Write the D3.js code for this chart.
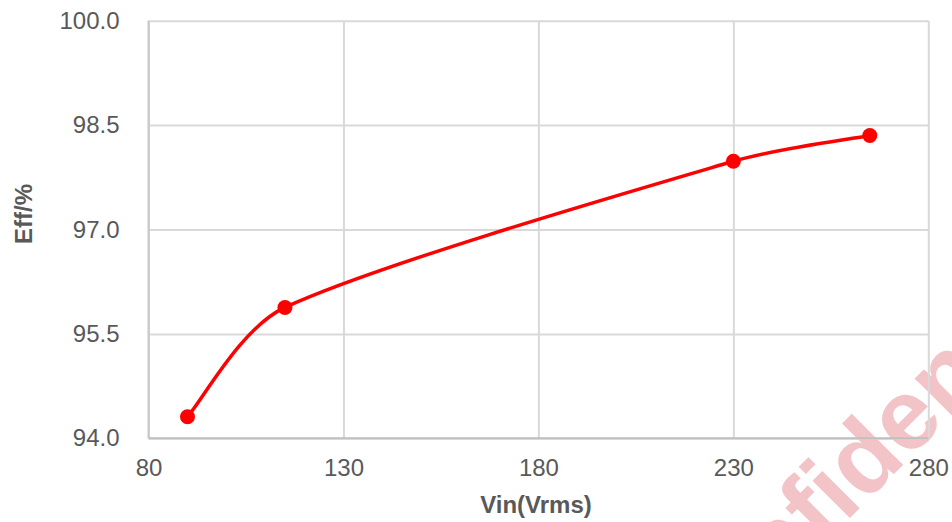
<!DOCTYPE html>
<html>
<head>
<meta charset="utf-8">
<script src="https://cdn.jsdelivr.net/npm/d3@7"></script>
<style>
  body { margin: 0; background: #fff; }
  text { font-family: "Liberation Sans", Arial, sans-serif; }
</style>
</head>
<body>
<svg id="chart" width="952" height="522"></svg>
<script>
// values
const vin = [90, 115, 230, 265];
const eff = [94.31, 95.88, 97.98, 98.35];
const xTicks = [80, 130, 180, 230, 280];
const yTicks = [94.0, 95.5, 97.0, 98.5, 100.0];

const width = 952,
    height = 522,
    margin = { top: 20.7, right: 23.7, bottom: 83.7, left: 148.5 },
    w = width - margin.left - margin.right,
    h = height - margin.top - margin.bottom;

const svg = d3.select("#chart");

// watermark sits behind everything
svg.append("text")
    .attr("transform", "translate(684,684) rotate(-45)")
    .attr("font-size", 100)
    .attr("font-weight", "bold")
    .attr("fill", "#f2c4c8")
    .text("Confidential");

const x = d3.scaleLinear().domain([80, 280]).range([0, w]);
const y = d3.scaleLinear().domain([94, 100]).range([h, 0]);

const g = svg.append("g")
    .attr("transform", "translate(" + margin.left + "," + margin.top + ")");

// gridlines
g.append("g")
    .attr("class", "ygrid")
    .call(d3.axisLeft(y).tickValues(yTicks).tickSize(-w).tickFormat(""))
    .call(s => s.select(".domain").remove())
    .selectAll("line").attr("stroke", "#d9d9d9").attr("stroke-width", 2);

g.append("g")
    .attr("class", "xgrid")
    .attr("transform", "translate(0," + h + ")")
    .call(d3.axisBottom(x).tickValues(xTicks).tickSize(-h).tickFormat(""))
    .call(s => s.select(".domain").remove())
    .selectAll("line").attr("stroke", "#d9d9d9").attr("stroke-width", 2);

// axis lines (left + bottom are darker)
g.append("line")
    .attr("x1", x(80)).attr("x2", x(80))
    .attr("y1", y(94)).attr("y2", y(100))
    .attr("stroke", "#c8c8c8").attr("stroke-width", 2);
g.append("line")
    .attr("x1", x(80)).attr("x2", x(280))
    .attr("y1", y(94)).attr("y2", y(94))
    .attr("stroke", "#bfbfbf").attr("stroke-width", 2);

// tick labels
const yAxis = g.append("g")
    .call(d3.axisLeft(y).tickValues(yTicks).tickFormat(d3.format(".1f")).tickSize(0).tickPadding(29));
yAxis.select(".domain").remove();
yAxis.selectAll("text").attr("font-size", 24).attr("fill", "#595959")
    .style("font-family", "'Liberation Sans', Arial, sans-serif");

const xAxis = g.append("g")
    .attr("transform", "translate(0," + h + ")")
    .call(d3.axisBottom(x).tickValues(xTicks).tickSize(0).tickPadding(21));
xAxis.select(".domain").remove();
xAxis.selectAll("text").attr("font-size", 24).attr("fill", "#595959")
    .style("font-family", "'Liberation Sans', Arial, sans-serif");

// axis titles
svg.append("text")
    .attr("x", 536).attr("y", 513)
    .attr("text-anchor", "middle")
    .attr("font-size", 24).attr("font-weight", "bold").attr("fill", "#595959")
    .text("Vin(Vrms)");

svg.append("text")
    .attr("transform", "translate(32,214) rotate(-90)")
    .attr("text-anchor", "middle")
    .attr("font-size", 24).attr("font-weight", "bold").attr("fill", "#595959")
    .text("Eff/%");

// Excel-like smoothing: catmull-rom tangents (1/6), arms capped at 1/3 of the segment
function clampArm(v, cap) {
    const len = Math.hypot(v[0], v[1]);
    return len > cap ? [v[0] * cap / len, v[1] * cap / len] : v;
}

function excelSmooth(context) {
    let pts;
    return {
        areaStart() {},
        areaEnd() {},
        lineStart() { pts = []; },
        point(px, py) { pts.push([+px, +py]); },
        lineEnd() {
            const n = pts.length;
            if (!n) return;
            context.moveTo(pts[0][0], pts[0][1]);
            for (let i = 0; i < n - 1; i++) {
                const p0 = pts[Math.max(i - 1, 0)],
                    p1 = pts[i],
                    p2 = pts[i + 1],
                    p3 = pts[Math.min(i + 2, n - 1)];
                const cap = Math.hypot(p2[0] - p1[0], p2[1] - p1[1]) / 3;
                const a = clampArm([(p2[0] - p0[0]) / 6, (p2[1] - p0[1]) / 6], cap);
                const b = clampArm([(p3[0] - p1[0]) / 6, (p3[1] - p1[1]) / 6], cap);
                context.bezierCurveTo(p1[0] + a[0], p1[1] + a[1],
                    p2[0] - b[0], p2[1] - b[1], p2[0], p2[1]);
            }
        }
    };
}

const pts = vin.map((v, i) => [v, eff[i]]);

const line = d3.line()
    .x(d => x(d[0]))
    .y(d => y(d[1]))
    .curve(excelSmooth);

g.append("path")
    .datum(pts)
    .attr("d", line)
    .attr("fill", "none")
    .attr("stroke", "#ff0000")
    .attr("stroke-width", 3.5);

g.selectAll("circle")
    .data(pts)
    .enter().append("circle")
    .attr("r", 7.5)
    .attr("cx", d => x(d[0]))
    .attr("cy", d => y(d[1]))
    .attr("fill", "#ff0000");
</script>
</body>
</html>
